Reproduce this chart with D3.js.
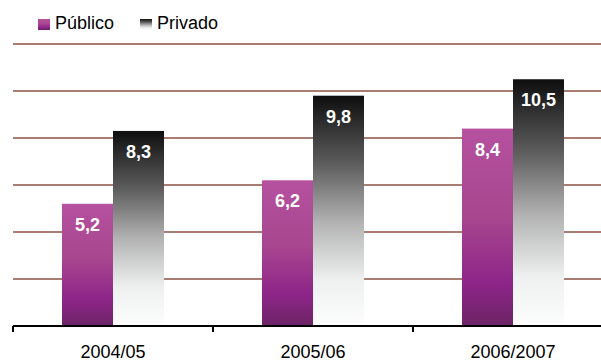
<!DOCTYPE html>
<html><head><meta charset="utf-8">
<script src="https://cdn.jsdelivr.net/npm/d3@7"></script>
<style>body{margin:0;background:#fff}svg{display:block}</style>
</head><body>
<svg id="c" width="601" height="362"></svg>
<script>
const categories = ["2004/05", "2005/06", "2006/2007"];
const seriesNames = ["Público", "Privado"];
const publico = [5.2, 6.2, 8.4];
const privado = [8.3, 9.8, 10.5];
const gridTicks = [2, 4, 6, 8, 10, 12];

const svg = d3.select("#c");
const x0 = 13, plotW = 600, y0 = 326;
const x = d3.scaleBand().domain(categories).range([x0, x0 + plotW]);
const xs = d3.scaleBand().domain(seriesNames).range([0, 102]);
const y = d3.scaleLinear().domain([0, 12]).range([y0, y0 - 282]);

const defs = svg.append("defs");
const gp = defs.append("linearGradient").attr("id", "gPub").attr("x1", 0).attr("y1", 0).attr("x2", 0).attr("y2", 1);
[[0, "#b5519f"], [0.45, "#a8468f"], [0.78, "#8e2589"], [1, "#6c2466"]].forEach(s => gp.append("stop").attr("offset", s[0]).attr("stop-color", s[1]));
const gv = defs.append("linearGradient").attr("id", "gPriv").attr("x1", 0).attr("y1", 0).attr("x2", 0).attr("y2", 1);
[[0, "#0e0e0e"], [0.3, "#5e5e5e"], [0.55, "#b2b2b2"], [0.8, "#eef0f0"], [1, "#fdfdfd"]].forEach(s => gv.append("stop").attr("offset", s[0]).attr("stop-color", s[1]));

// gridlines
svg.append("g").selectAll("line").data(gridTicks).join("line")
  .attr("x1", x0).attr("x2", 601)
  .attr("y1", d => y(d)).attr("y2", d => y(d))
  .attr("stroke", "#a97d71").attr("stroke-width", 2);

const data = categories.map((c, i) => ({c, vals: [{s: "Público", v: publico[i]}, {s: "Privado", v: privado[i]}]}));
const groups = svg.append("g").selectAll("g").data(data).join("g")
  .attr("transform", d => `translate(${x(d.c) + x.bandwidth() / 2 - 51},0)`);
groups.selectAll("rect").data(d => d.vals).join("rect")
  .attr("x", d => xs(d.s)).attr("width", xs.bandwidth())
  .attr("y", d => y(d.v)).attr("height", d => y0 - y(d.v))
  .attr("fill", d => d.s === "Público" ? "url(#gPub)" : "url(#gPriv)");
groups.selectAll("text").data(d => d.vals).join("text")
  .attr("x", d => xs(d.s) + xs.bandwidth() / 2)
  .attr("y", d => y(d.v) + 27)
  .attr("text-anchor", "middle")
  .attr("font-family", "Liberation Sans, Arial, sans-serif")
  .attr("font-weight", "bold").attr("font-size", 18).attr("fill", "#fff")
  .text(d => String(d.v).replace(".", ","));

// axis
const ax = svg.append("g").attr("transform", `translate(0,${y0})`)
  .call(d3.axisBottom(x).tickSize(0).tickPadding(0));
ax.select(".domain").remove();
ax.selectAll("text").attr("y", 32).attr("dy", 0)
  .attr("font-family", "Liberation Sans, Arial, sans-serif").attr("font-size", 18).attr("fill", "#000");
ax.append("line").attr("x1", x0).attr("x2", 601).attr("y1", 0).attr("y2", 0).attr("stroke", "#000").attr("stroke-width", 2);
ax.selectAll(".bt").data(categories).join("line").attr("class", "bt")
  .attr("x1", d => x(d)).attr("x2", d => x(d)).attr("y1", 0).attr("y2", 6)
  .attr("stroke", "#000").attr("stroke-width", 2);

// legend
const leg = svg.append("g");
const legItems = [{s: "Público", fill: "url(#gPub)", x: 38}, {s: "Privado", fill: "url(#gPriv)", x: 140}];
leg.selectAll("rect").data(legItems).join("rect")
  .attr("x", d => d.x).attr("y", 19).attr("width", 12).attr("height", 11).attr("fill", d => d.fill);
leg.selectAll("text").data(legItems).join("text")
  .attr("x", d => d.x + 17).attr("y", 29)
  .attr("font-family", "Liberation Sans, Arial, sans-serif").attr("font-size", 18).attr("fill", "#000")
  .text(d => d.s);
</script>
</body></html>
